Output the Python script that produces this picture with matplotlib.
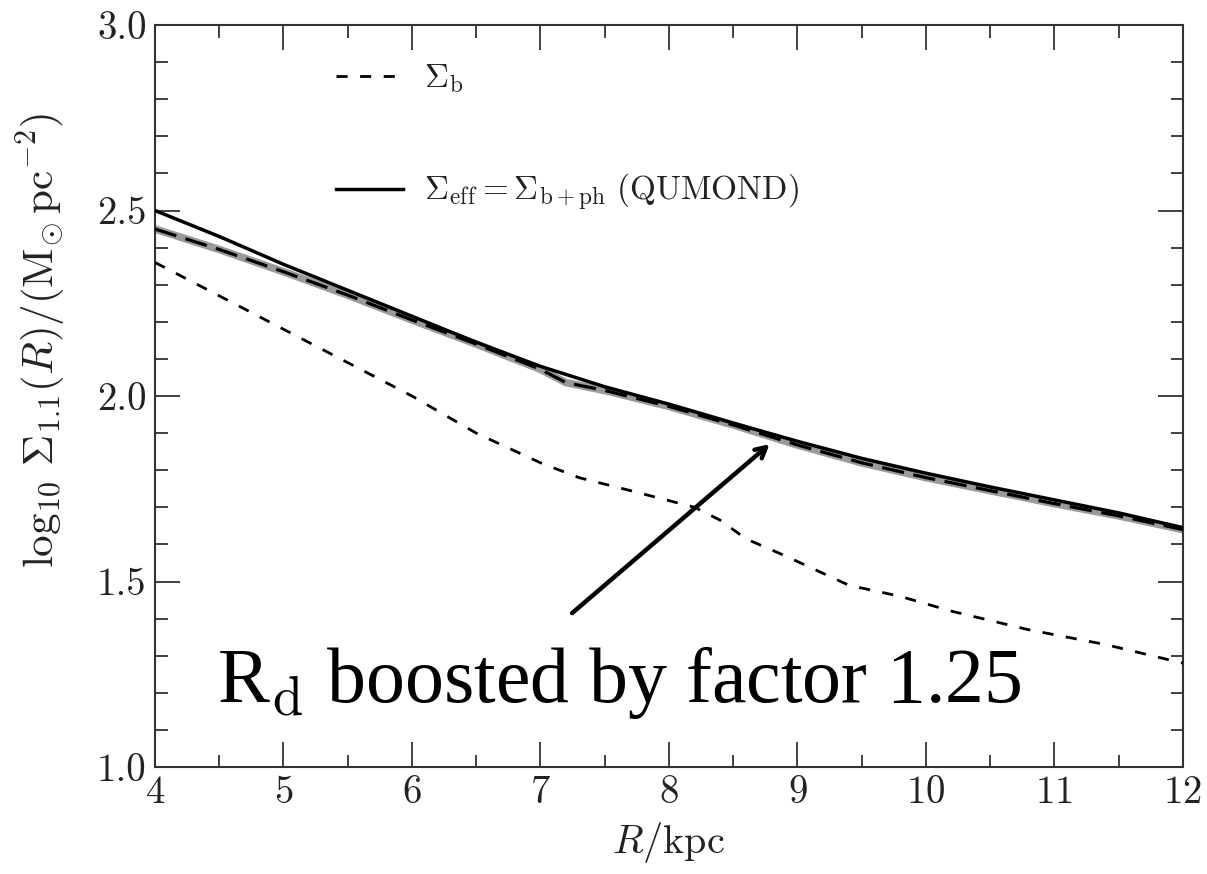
import numpy as np
import matplotlib
matplotlib.use("Agg")
from matplotlib import pyplot as plt
from matplotlib.ticker import MultipleLocator

plt.rcParams['mathtext.fontset'] = 'cm'
plt.rcParams['font.family'] = 'serif'
plt.rcParams['font.serif'] = ['cmr10', 'DejaVu Serif']
plt.rcParams['axes.formatter.use_mathtext'] = True

# data
R = [4.0, 4.5, 5.0, 5.5, 6.0, 6.5, 7.0, 7.2, 7.5, 8.0, 8.5, 9.0, 9.5, 10.0, 10.5, 11.0, 11.5, 12.0]
sigma_eff_upper = [2.50, 2.43, 2.355, 2.285, 2.215, 2.145, 2.08, 2.058, 2.025, 1.978, 1.927, 1.878,
                   1.832, 1.792, 1.755, 1.72, 1.685, 1.645]
sigma_eff_lower = [2.45, 2.395, 2.335, 2.272, 2.205, 2.14, 2.072, 2.036, 2.015, 1.972, 1.922, 1.868,
                   1.82, 1.78, 1.745, 1.71, 1.677, 1.64]

R_b = [4.0, 4.5, 5.0, 5.5, 6.0, 6.5, 7.0, 7.3, 7.7, 8.2, 8.4, 8.6, 8.9, 9.4, 9.8, 10.2, 10.8, 11.4, 12.0]
sigma_b = [2.36, 2.27, 2.18, 2.09, 2.00, 1.90, 1.82, 1.78, 1.745, 1.70, 1.665, 1.615, 1.57, 1.49,
           1.46, 1.42, 1.37, 1.33, 1.28]

arrow_start = (7.23, 1.41)
arrow_end = (8.80, 1.875)

fig = plt.figure(figsize=(12.07, 8.74), dpi=100)
ax = fig.add_axes([0.1284, 0.1224, 0.8516, 0.849])

# gray band + dashed black on it (lower effective curve)
ax.plot(R, sigma_eff_lower, color="#9a9a9a", lw=5.5, solid_capstyle="butt", zorder=2)
ax.plot(R, sigma_eff_lower, color="black", lw=2.3, dashes=(7, 3), zorder=3)
ax.plot(R, sigma_eff_upper, color="black", lw=2.5, zorder=4,
        label=r"$\Sigma_{\rm eff} = \Sigma_{\rm b+ph}\ \mathrm{(QUMOND)}$")
ax.plot(R_b, sigma_b, color="black", lw=2, dashes=(4, 4.5), zorder=3, label=r"$\Sigma_{\rm b}$")

handles, labels = ax.get_legend_handles_labels()
leg = ax.legend(handles[::-1], labels[::-1], loc="upper left", bbox_to_anchor=(0.147, 0.99),
                frameon=False, fontsize=24, handlelength=2.0, handletextpad=0.65, labelspacing=2.3)
for t in leg.get_texts():
    t.set_color("#222222")

ax.annotate("", xy=arrow_end, xytext=arrow_start,
            arrowprops=dict(arrowstyle="->,head_length=0.75,head_width=0.4", lw=3.2, color="black"))
ax.text(4.48, 1.175, r"R$_{\rm d}$ boosted by factor 1.25", fontsize=56,
        family="Liberation Serif", color="black", va="baseline", ha="left")

ax.set_xlim(4, 12)
ax.set_ylim(1.0, 3.0)
ax.xaxis.set_major_locator(MultipleLocator(1))
ax.xaxis.set_minor_locator(MultipleLocator(0.5))
ax.yaxis.set_major_locator(MultipleLocator(0.5))
ax.yaxis.set_minor_locator(MultipleLocator(0.1))
ax.tick_params(which="both", direction="in", top=True, right=True, colors="#333333",
               labelcolor="#222222", labelsize=28, width=1.3)
ax.tick_params(which="major", length=18, pad=6)
ax.tick_params(which="minor", length=9)
ax.yaxis.set_major_formatter(matplotlib.ticker.FormatStrFormatter("%.1f"))
for s in ax.spines.values():
    s.set_color("#333333")
    s.set_linewidth(1.5)

ax.set_xlabel(r"$R/\mathrm{kpc}$", fontsize=29, color="#222222", labelpad=6)
ax.set_ylabel(r"$\log_{10}\,\Sigma_{1.1}(R)/(\mathrm{M}_{\odot}\,\mathrm{pc}^{-2})$", fontsize=31,
              color="#222222")
ax.yaxis.set_label_coords(-0.085, 0.575)

fig.savefig("out.png", dpi=100)
